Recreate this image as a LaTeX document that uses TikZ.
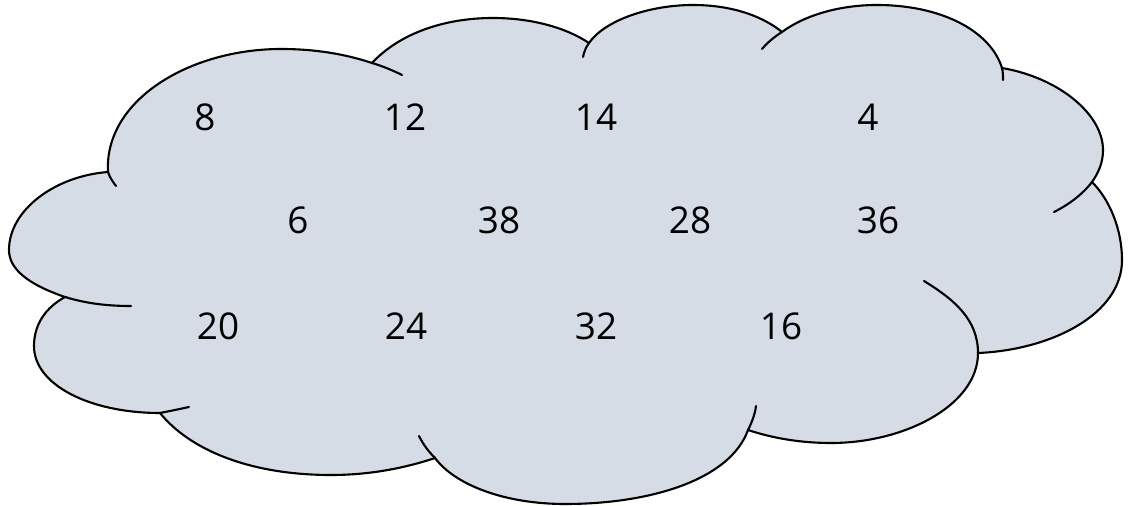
\documentclass[tikz,border=0pt]{standalone}
\usepackage{fontspec}
\setmainfont{Open Sans}
\definecolor{cloudfill}{RGB}{214,220,229}
\begin{document}
\begin{tikzpicture}[x=0.02cm,y=-0.02cm,
  num/.style={font=\fontsize{21}{24}\selectfont, inner sep=0pt},
  rim/.style={line width=1.2pt, line cap=round}]
\useasboundingbox (0,0) rectangle (1129,506);
% cloud outline
\draw[rim, fill=cloudfill] (108,172)
.. controls (104,100) and (190,49) .. (281,49)
.. controls (315,49) and (345,54) .. (372,63)
.. controls (400,33) and (445,18) .. (493,18)
.. controls (530,18) and (565,27) .. (589,43)
.. controls (605,20) and (650,5) .. (693,5)
.. controls (735,5) and (765,18) .. (782,32)
.. controls (805,15) and (840,5) .. (877,5)
.. controls (940,5) and (990,30) .. (1002,68)
.. controls (1060,78) and (1103,115) .. (1103,150)
.. controls (1103,162) and (1099,172) .. (1092,182)
.. controls (1110,200) and (1122,230) .. (1122,260)
.. controls (1122,315) and (1050,350) .. (978,353)
.. controls (978,405) and (905,443) .. (831,443)
.. controls (800,443) and (772,438) .. (748,430)
.. controls (730,480) and (650,504) .. (565,504)
.. controls (505,504) and (455,485) .. (435,458)
.. controls (405,468) and (370,475) .. (331,475)
.. controls (250,475) and (190,450) .. (160,413)
.. controls (90,413) and (34,385) .. (34,346)
.. controls (34,325) and (45,308) .. (65,297)
.. controls (30,285) and (9,270) .. (9,250)
.. controls (9,210) and (55,176) .. (108,172) -- cycle;
% inner arcs
\draw[rim] (108,172) .. controls (110,178) and (113,182) .. (116,186);
\draw[rim] (372,63) .. controls (382,66) and (392,70) .. (402,75);
\draw[rim] (589,43) .. controls (586,47) and (584,52) .. (583,57);
\draw[rim] (782,32) .. controls (774,37) and (767,43) .. (762,49);
\draw[rim] (1002,68) .. controls (1003,72) and (1003,76) .. (1003,80);
\draw[rim] (1092,182) .. controls (1082,195) and (1068,205) .. (1054,212);
\draw[rim] (978,353) .. controls (978,320) and (955,300) .. (924,281);
\draw[rim] (748,430) .. controls (752,422) and (755,414) .. (756,406);
\draw[rim] (435,458) .. controls (428,451) and (423,444) .. (419,436);
\draw[rim] (160,413) .. controls (170,411) and (180,409) .. (189,407);
\draw[rim] (65,297) .. controls (85,303) and (105,306) .. (131,306);
% numbers
\node[num] (n8) at (205,117) {8};
\node[num] (n12) at (405,117) {12};
\node[num] (n14) at (596,117) {14};
\node[num] (n4) at (868,117) {4};
\node[num] (n6) at (298,220) {6};
\node[num] (n38) at (499,220) {38};
\node[num] (n28) at (690,220) {28};
\node[num] (n36) at (878,220) {36};
\node[num] (n20) at (218,326) {20};
\node[num] (n24) at (406,326) {24};
\node[num] (n32) at (596,326) {32};
\node[num] (n16) at (781,326) {16};
\end{tikzpicture}
\end{document}
